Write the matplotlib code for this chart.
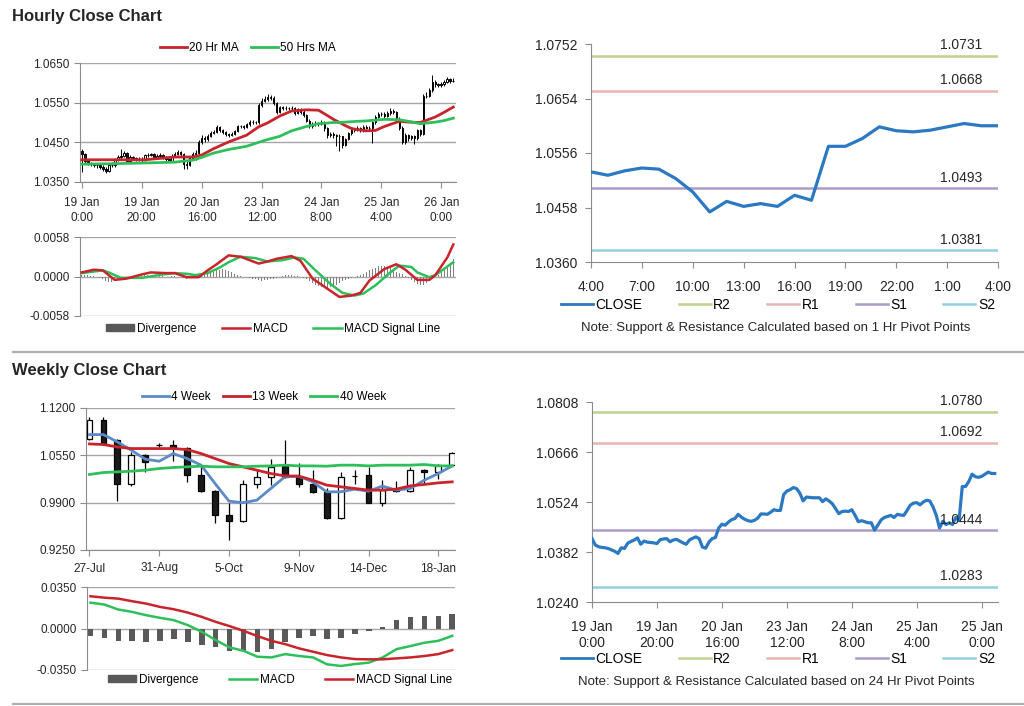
import numpy as np
import matplotlib
matplotlib.use('Agg')
import matplotlib.pyplot as plt
from matplotlib.lines import Line2D
from matplotlib.patches import Patch
import matplotlib.transforms as mtransforms

plt.rcParams['font.family'] = ['Liberation Sans', 'DejaVu Sans']

W, H = 1024, 706

# ---- hourly data (19 Jan 0:00 -> 26 Jan 4:00, trading hours) ----
hourly_close = [
    1.0420, 1.0402, 1.0397, 1.0395, 1.0394, 1.0392, 1.0388, 1.0384, 1.0378, 1.0394,
    1.0392, 1.0407, 1.0412, 1.0416, 1.0422, 1.0404, 1.0413, 1.0410, 1.0409, 1.0408,
    1.0406, 1.0417, 1.0419, 1.0420, 1.0411, 1.0416, 1.0418, 1.0413, 1.0408, 1.0404,
    1.0416, 1.0421, 1.0425, 1.0420, 1.0396, 1.0393, 1.0410, 1.0420, 1.0423, 1.0450,
    1.0461, 1.0458, 1.0467, 1.0474, 1.0477, 1.0489, 1.0481, 1.0475, 1.0471, 1.0469,
    1.0472, 1.0478, 1.0490, 1.0490, 1.0489, 1.0495, 1.0502, 1.0500, 1.0500, 1.0545,
    1.0555, 1.0559, 1.0565, 1.0562, 1.0549, 1.0527, 1.0538, 1.0537, 1.0536, 1.0536,
    1.0536, 1.0525, 1.0533, 1.0527, 1.0519, 1.0505, 1.0491, 1.0497, 1.0498, 1.0497,
    1.0502, 1.0486, 1.0468, 1.0471, 1.0468, 1.0465, 1.0465, 1.0444, 1.0458, 1.0473,
    1.0480, 1.0483, 1.0486, 1.0480, 1.0489, 1.0487, 1.0486, 1.0500, 1.0515, 1.0521,
    1.0522, 1.0516, 1.0524, 1.0529, 1.0527, 1.0510, 1.0486, 1.0450, 1.0469, 1.0460,
    1.0465, 1.0460, 1.0480, 1.0471, 1.0568, 1.0568, 1.0582, 1.0603, 1.0596, 1.0594,
    1.0597, 1.0603, 1.0609, 1.0605, 1.0605]
hourly_first_open = 1.0428
hourly_high = [
    1.0432, 1.0424, 1.0406, 1.0401, 1.0399, 1.0398, 1.0396, 1.0392, 1.0388, 1.0398,
    1.0400, 1.0411, 1.0418, 1.0434, 1.0428, 1.0425, 1.0417, 1.0416, 1.0414, 1.0413,
    1.0412, 1.0421, 1.0424, 1.0424, 1.0423, 1.0420, 1.0422, 1.0421, 1.0416, 1.0411,
    1.0420, 1.0426, 1.0430, 1.0428, 1.0422, 1.0402, 1.0414, 1.0426, 1.0430, 1.0456,
    1.0468, 1.0466, 1.0472, 1.0479, 1.0482, 1.0494, 1.0492, 1.0484, 1.0478, 1.0474,
    1.0476, 1.0482, 1.0494, 1.0494, 1.0493, 1.0499, 1.0506, 1.0506, 1.0504, 1.0550,
    1.0562, 1.0566, 1.0572, 1.0570, 1.0566, 1.0552, 1.0542, 1.0542, 1.0541, 1.0540,
    1.0541, 1.0539, 1.0537, 1.0536, 1.0531, 1.0522, 1.0508, 1.0501, 1.0503, 1.0502,
    1.0507, 1.0505, 1.0489, 1.0476, 1.0475, 1.0472, 1.0470, 1.0467, 1.0462, 1.0477,
    1.0484, 1.0487, 1.0490, 1.0489, 1.0493, 1.0493, 1.0491, 1.0505, 1.0520, 1.0526,
    1.0527, 1.0526, 1.0529, 1.0536, 1.0534, 1.0530, 1.0513, 1.0490, 1.0473, 1.0472,
    1.0469, 1.0469, 1.0484, 1.0484, 1.0573, 1.0576, 1.0588, 1.0619, 1.0608, 1.0600,
    1.0602, 1.0608, 1.0614, 1.0612, 1.0611]
hourly_low = [
    1.0376, 1.0396, 1.0392, 1.0390, 1.0388, 1.0386, 1.0382, 1.0378, 1.0372, 1.0374,
    1.0388, 1.0389, 1.0403, 1.0408, 1.0412, 1.0400, 1.0401, 1.0406, 1.0404, 1.0403,
    1.0401, 1.0403, 1.0413, 1.0415, 1.0407, 1.0408, 1.0413, 1.0409, 1.0404, 1.0400,
    1.0401, 1.0413, 1.0418, 1.0414, 1.0384, 1.0383, 1.0390, 1.0406, 1.0405, 1.0418,
    1.0446, 1.0452, 1.0454, 1.0463, 1.0470, 1.0473, 1.0476, 1.0470, 1.0466, 1.0464,
    1.0465, 1.0468, 1.0475, 1.0485, 1.0484, 1.0485, 1.0491, 1.0496, 1.0495, 1.0497,
    1.0540, 1.0551, 1.0555, 1.0556, 1.0544, 1.0522, 1.0523, 1.0532, 1.0531, 1.0531,
    1.0530, 1.0520, 1.0521, 1.0522, 1.0513, 1.0500, 1.0486, 1.0487, 1.0492, 1.0492,
    1.0493, 1.0478, 1.0460, 1.0463, 1.0462, 1.0440, 1.0429, 1.0436, 1.0440, 1.0455,
    1.0469, 1.0476, 1.0479, 1.0476, 1.0477, 1.0483, 1.0482, 1.0448, 1.0497, 1.0511,
    1.0516, 1.0512, 1.0513, 1.0520, 1.0522, 1.0505, 1.0480, 1.0446, 1.0447, 1.0454,
    1.0455, 1.0445, 1.0457, 1.0466, 1.0468, 1.0561, 1.0564, 1.0578, 1.0590, 1.0589,
    1.0590, 1.0592, 1.0599, 1.0600, 1.0601]

ma_hour = [0, 10, 21, 31, 37, 40, 44, 49, 55, 59, 62, 66, 70, 75, 79, 81, 84, 86,
           88, 90, 92, 95, 98, 101, 106, 109, 113, 118, 121, 124]
ma20 = [1.0406, 1.0406, 1.0406, 1.0413, 1.0413, 1.0418, 1.0434, 1.0451, 1.0468, 1.0489,
        1.0499, 1.0516, 1.0529, 1.0532, 1.0531, 1.0522, 1.0508, 1.0500, 1.0492, 1.0485,
        1.0482, 1.0479, 1.0480, 1.0490, 1.0503, 1.0501, 1.0500, 1.0514, 1.0526, 1.0539]
ma50 = [1.0395, 1.0396, 1.0398, 1.0400, 1.0405, 1.0412, 1.0423, 1.0432, 1.0440, 1.0450,
        1.0457, 1.0465, 1.0479, 1.0490, 1.0497, 1.0498, 1.0500, 1.0500, 1.0501, 1.0502,
        1.0503, 1.0504, 1.0506, 1.0508, 1.0507, 1.0503, 1.0497, 1.0501, 1.0505, 1.0511]

macd_hour_x = [0, 4, 7, 11, 15, 20, 23, 28, 31, 35, 39, 42, 45, 49, 53, 59, 62, 65,
               70, 73, 77, 82, 86, 90, 93, 96, 101, 105, 108, 112, 116, 118, 122, 124]
macd_hour = [0.0006, 0.0010, 0.0009, -0.0005, -0.0003, 0.0003, 0.0006, 0.0005, 0.0005,
             -0.0001, -0.0001, 0.0009, 0.0018, 0.0031, 0.0029, 0.0019, 0.0022, 0.0026,
             0.0030, 0.0023, -0.0003, -0.0018, -0.0030, -0.0028, -0.0024, -0.0006,
             0.0011, 0.0018, 0.0010, -0.0005, -0.0005, 0.0002, 0.0028, 0.0047]
signal_hour_x = [0, 7, 9, 13, 20, 27, 31, 35, 38, 42, 46, 49, 53, 58, 62, 67, 71, 74,
                 78, 83, 87, 91, 94, 98, 103, 106, 110, 112, 116, 118, 124]
signal_hour = [0.0005, 0.0009, 0.0006, -0.0002, -0.0002, 0.0003, 0.0005, 0.0004, 0.0002,
               0.0005, 0.0013, 0.0021, 0.0029, 0.0027, 0.0022, 0.0024, 0.0028, 0.0026,
               0.0009, -0.0011, -0.0024, -0.0028, -0.0025, -0.0013, 0.0006, 0.0016,
               0.0014, 0.0006, -0.0001, 0.0002, 0.0021]
div_hour = [
    0.0002, 0.0002, 0.0002, 0.0001, 0.0001, 0.0000, -0.0002, -0.0004, -0.0006, -0.0008,
    -0.0008, -0.0007, -0.0005, -0.0003, -0.0002, -0.0001, -0.0001, 0.0000, 0.0001, 0.0001,
    0.0001, 0.0002, 0.0002, 0.0001, 0.0001, 0.0000, 0.0001, 0.0001, 0.0000, -0.0001,
    0.0001, 0.0001, 0.0000, -0.0001, -0.0002, -0.0003, -0.0002, -0.0002, -0.0001, 0.0001,
    0.0002, 0.0003, 0.0004, 0.0006, 0.0007, 0.0009, 0.0010, 0.0011, 0.0009, 0.0008,
    0.0006, 0.0004, 0.0002, 0.0001, 0.0000, -0.0001, -0.0002, -0.0003, -0.0004, -0.0005,
    -0.0006, -0.0005, -0.0005, -0.0004, -0.0003, -0.0002, 0.0000, 0.0001, 0.0002, 0.0002,
    0.0002, 0.0001, 0.0001, 0.0000, -0.0002, -0.0004, -0.0006, -0.0009, -0.0012, -0.0014,
    -0.0016, -0.0017, -0.0018, -0.0016, -0.0015, -0.0012, -0.0010, -0.0007, -0.0005, -0.0003,
    -0.0002, 0.0000, 0.0001, 0.0002, 0.0004, 0.0006, 0.0009, 0.0011, 0.0013, 0.0015,
    0.0016, 0.0015, 0.0014, 0.0012, 0.0010, 0.0007, 0.0005, 0.0003, 0.0001, -0.0002,
    -0.0005, -0.0008, -0.0011, -0.0013, -0.0012, -0.0010, -0.0007, -0.0004, -0.0001, 0.0002,
    0.0006, 0.0010, 0.0015, 0.0020, 0.0025]

hour_ticks = [0, 20, 40, 60, 80, 100, 120]
hour_labels = ['19 Jan\n0:00', '19 Jan\n20:00', '20 Jan\n16:00', '23 Jan\n12:00',
               '24 Jan\n8:00', '25 Jan\n4:00', '26 Jan\n0:00']
close24_labels = ['19 Jan\n0:00', '19 Jan\n20:00', '20 Jan\n16:00', '23 Jan\n12:00',
                  '24 Jan\n8:00', '25 Jan\n4:00', '25 Jan\n0:00']
day_ticks = [0, 3, 6, 9, 12, 15, 18, 21, 24]
day_labels = ['4:00', '7:00', '10:00', '13:00', '16:00', '19:00', '22:00', '1:00', '4:00']

pivots_1h = {'R2': 1.0731, 'R1': 1.0668, 'S1': 1.0493, 'S2': 1.0381}
pivots_24h = {'R2': 1.0780, 'R1': 1.0692, 'S1': 1.0444, 'S2': 1.0283}

# ---- weekly data (27 Jul -> 25 Jan) ----
week_open = [1.0780, 1.1031, 1.0757, 1.0150, 1.0552, 1.0692, 1.0698, 1.0652, 1.0278,
             1.0058, 0.9730, 0.9647, 1.0150, 1.0255, 1.0401, 1.0255, 1.0150, 1.0049,
             0.9693, 1.0272, 1.0278, 0.9899, 1.0058, 1.0058, 1.0346, 1.0323, 1.0424]
week_high = [1.1077, 1.1077, 1.0780, 1.0597, 1.0574, 1.0721, 1.0757, 1.0666, 1.0392,
             1.0072, 0.9889, 1.0209, 1.0346, 1.0497, 1.0757, 1.0451, 1.0346, 1.0095,
             1.0323, 1.0346, 1.0392, 1.0209, 1.0195, 1.0392, 1.0369, 1.0437, 1.0597]
week_low = [1.0757, 1.0689, 0.9926, 1.0127, 1.0323, 1.0666, 1.0469, 1.0186, 1.0040,
            0.9615, 0.9387, 0.9638, 1.0104, 1.0141, 1.0241, 1.0118, 1.0026, 0.9675,
            0.9675, 1.0163, 0.9889, 0.9857, 1.0049, 1.0040, 1.0163, 1.0223, 1.0415]
week_close = [1.1031, 1.0711, 1.0150, 1.0552, 1.0460, 1.0686, 1.0657, 1.0278, 1.0058,
              0.9730, 0.9647, 1.0150, 1.0255, 1.0392, 1.0255, 1.0150, 1.0049, 0.9693,
              1.0255, 1.0264, 0.9899, 1.0072, 1.0072, 1.0346, 1.0323, 1.0424, 1.0588]
ma4w = [1.0835, 1.0835, 1.0734, 1.0620, 1.0497, 1.0469, 1.0574, 1.0506, 1.0415, 1.0163,
        0.9921, 0.9899, 0.9935, 1.0095, 1.0255, 1.0264, 1.0186, 1.0049, 1.0049, 1.0086,
        1.0058, 1.0127, 1.0072, 1.0095, 1.0209, 1.0300, 1.0405]
ma13w = [1.0707, 1.0698, 1.0666, 1.0643, 1.0643, 1.0643, 1.0643, 1.0629, 1.0574, 1.0506,
         1.0437, 1.0392, 1.0346, 1.0300, 1.0268, 1.0264, 1.0209, 1.0141, 1.0118, 1.0095,
         1.0072, 1.0072, 1.0086, 1.0131, 1.0150, 1.0172, 1.0186]
ma40w = [1.0287, 1.0314, 1.0323, 1.0332, 1.0346, 1.0369, 1.0383, 1.0392, 1.0401, 1.0392,
         1.0392, 1.0392, 1.0401, 1.0405, 1.0415, 1.0405, 1.0405, 1.0401, 1.0415, 1.0415,
         1.0405, 1.0415, 1.0415, 1.0415, 1.0424, 1.0405, 1.0405]
macd_week = [0.0218, 0.0202, 0.0160, 0.0140, 0.0112, 0.0090, 0.0070, 0.0028, -0.0028,
             -0.0098, -0.0160, -0.0188, -0.0238, -0.0244, -0.0216, -0.0232, -0.0244,
             -0.0302, -0.0316, -0.0300, -0.0288, -0.0244, -0.0174, -0.0148, -0.0120,
             -0.0104, -0.0062]
signal_week = [0.0272, 0.0260, 0.0252, 0.0230, 0.0210, 0.0182, 0.0162, 0.0134, 0.0098,
               0.0056, 0.0020, -0.0020, -0.0064, -0.0104, -0.0132, -0.0168, -0.0196,
               -0.0224, -0.0244, -0.0258, -0.0260, -0.0260, -0.0252, -0.0244, -0.0232,
               -0.0216, -0.0182]
div_week = [-0.0064, -0.0084, -0.0104, -0.0104, -0.0112, -0.0104, -0.0092, -0.0112,
            -0.0140, -0.0160, -0.0188, -0.0188, -0.0196, -0.0174, -0.0112, -0.0084,
            -0.0064, -0.0092, -0.0084, -0.0048, -0.0020, 0.0014, 0.0070, 0.0098,
            0.0106, 0.0106, 0.0126]
week_ticks = [0, 5, 10, 15, 20, 25]
week_labels = ['27-Jul', '31-Aug', '5-Oct', '9-Nov', '14-Dec', '18-Jan']

# ---- colours ----
AXIS = '#8c8c8c'
GRID = '#a6a6a6'
TXT = '#262626'
RED = '#c8242b'
GREEN = '#2fbf5a'
BLUE4 = '#5b8ac6'
CLOSE_C = '#2a79c2'
PIVOT_C = {'R2': '#bdd38f', 'R1': '#e8b4b4', 'S1': '#ad9bcc', 'S2': '#93cfe0'}


def px_axes(fig, left, top, right, bottom):
    return fig.add_axes([left / W, 1 - bottom / H, (right - left) / W, (bottom - top) / H])


def style_axes(ax, fs, grid=True):
    for s in ('top', 'right'):
        ax.spines[s].set_visible(False)
    ax.spines['left'].set_color(AXIS)
    ax.spines['bottom'].set_color(AXIS)
    ax.tick_params(axis='both', colors=AXIS, labelcolor=TXT, labelsize=fs,
                   length=4, width=0.8, direction='out')
    if grid:
        ax.yaxis.grid(True, color=GRID, lw=1.0)
        ax.set_axisbelow(True)


def draw_candles(ax, x, o, h, l, c, width, lw):
    x, o, h, l, c = map(np.asarray, (x, o, h, l, c))
    ax.vlines(x, l, h, color='black', lw=lw, zorder=3)
    up = c >= o
    ax.bar(x[up], (c - o)[up], bottom=o[up], width=width, color='white',
           edgecolor='black', lw=lw, zorder=4)
    ax.bar(x[~up], (o - c)[~up], bottom=c[~up], width=width, color='#1a1a1a',
           edgecolor='black', lw=lw, zorder=4)


def pivot_panel(ax, closes, x, pivots, yticks):
    for name in ('R2', 'R1', 'S1', 'S2'):
        ax.axhline(pivots[name], color=PIVOT_C[name], lw=1.8, zorder=2)
        ax.annotate(f'{pivots[name]:.4f}', xy=(0.91, pivots[name]),
                    xycoords=mtransforms.blended_transform_factory(ax.transAxes, ax.transData),
                    xytext=(0, 2.5), textcoords='offset points', ha='center', va='bottom',
                    fontsize=10, color=TXT, zorder=5)
    ax.plot(x, closes, color=CLOSE_C, lw=2.3, zorder=4)
    ax.set_ylim(yticks[0], yticks[-1])
    ax.set_yticks(yticks)
    ax.set_yticklabels([f'{v:.4f}' for v in yticks])
    style_axes(ax, 10, grid=False)
    ax.tick_params(axis='x', pad=9)
    ax.tick_params(axis='y', pad=6)


def pivot_legend(fig, ycenter, note):
    handles = [Line2D([], [], color=CLOSE_C, lw=2)] + \
              [Line2D([], [], color=PIVOT_C[k], lw=1.8) for k in ('R2', 'R1', 'S1', 'S2')]
    fig.legend(handles, ['CLOSE', 'R2', 'R1', 'S1', 'S2'], loc='center',
               bbox_to_anchor=(778 / W, 1 - ycenter / H), ncol=5, frameon=False,
               fontsize=10, handlelength=2.3, handletextpad=0.2, columnspacing=2.6)
    fig.text(776 / W, 1 - (ycenter + 23) / H, note, ha='center', va='center',
             fontsize=9.5, color=TXT)


fig = plt.figure(figsize=(W / 100, H / 100), dpi=100)

hx = np.arange(len(hourly_close))
hourly_open = np.r_[hourly_first_open, np.asarray(hourly_close)[:-1]]

# ---- hourly candle chart ----
ax1 = px_axes(fig, 80, 63, 456, 182)
draw_candles(ax1, hx, hourly_open, hourly_high, hourly_low, hourly_close, 0.55, 0.7)
ax1.plot(ma_hour, ma20, color=RED, lw=2.0, zorder=5)
ax1.plot(ma_hour, ma50, color=GREEN, lw=2.0, zorder=5)
ax1.set_xlim(-0.6, 124.9)
ax1.set_ylim(1.0350, 1.0650)
ax1.set_yticks([1.0350, 1.0450, 1.0550, 1.0650])
ax1.set_yticklabels(['1.0350', '1.0450', '1.0550', '1.0650'])
ax1.set_xticks(hour_ticks)
ax1.set_xticklabels(hour_labels, linespacing=1.25)
style_axes(ax1, 8.5)
ax1.tick_params(axis='x', pad=7)
fig.legend([Line2D([], [], color=RED, lw=2), Line2D([], [], color=GREEN, lw=2)],
           ['20 Hr MA', '50 Hrs MA'], loc='center', bbox_to_anchor=(248 / W, 1 - 48 / H),
           ncol=2, frameon=False, fontsize=8.5, handlelength=2.3, handletextpad=0.2,
           columnspacing=1.0)

# ---- hourly MACD ----
ax2 = px_axes(fig, 80, 237, 456, 316)
ax2.bar(hx, div_hour, width=0.45, color='#7f7f7f', zorder=2)
ax2.plot(macd_hour_x, macd_hour, color=RED, lw=1.8, zorder=4)
ax2.plot(signal_hour_x, signal_hour, color=GREEN, lw=1.8, zorder=3)
ax2.set_xlim(-0.6, 124.9)
ax2.set_ylim(-0.0058, 0.0058)
ax2.set_yticks([-0.0058, 0.0, 0.0058])
ax2.set_yticklabels(['-0.0058', '0.0000', '0.0058'])
ax2.set_xticks([])
style_axes(ax2, 8.5)
ax2.spines['bottom'].set_visible(False)
fig.legend([Patch(color='#595959'), Line2D([], [], color=RED, lw=1.8),
            Line2D([], [], color=GREEN, lw=1.8)],
           ['Divergence', 'MACD', 'MACD Signal Line'], loc='center',
           bbox_to_anchor=(273 / W, 1 - 329 / H), ncol=3, frameon=False, fontsize=8.5,
           handlelength=2.4, handleheight=0.5, handletextpad=0.2, columnspacing=2.2)

# ---- 1 Hr pivot chart ----
ax3 = px_axes(fig, 591, 44, 998, 262)
pivot_panel(ax3, hourly_close[100:], np.arange(25), pivots_1h,
            [1.0360, 1.0458, 1.0556, 1.0654, 1.0752])
ax3.set_xlim(0, 24)
ax3.set_xticks(day_ticks)
ax3.set_xticklabels(day_labels)
pivot_legend(fig, 305, 'Note: Support & Resistance Calculated based on 1 Hr Pivot Points')

# ---- weekly candle chart ----
wx = np.arange(len(week_close))
ax4 = px_axes(fig, 86, 408, 455, 550)
draw_candles(ax4, wx, week_open, week_high, week_low, week_close, 0.42, 0.9)
ax4.plot(wx, ma4w, color=BLUE4, lw=2.0, zorder=5)
ax4.plot(wx, ma13w, color=RED, lw=2.0, zorder=5)
ax4.plot(wx, ma40w, color=GREEN, lw=2.0, zorder=5)
ax4.set_xlim(-0.25, 26.2)
ax4.set_ylim(0.9250, 1.1200)
ax4.set_yticks([0.9250, 0.9900, 1.0550, 1.1200])
ax4.set_yticklabels(['0.9250', '0.9900', '1.0550', '1.1200'])
ax4.set_xticks(week_ticks)
ax4.set_xticklabels(week_labels)
style_axes(ax4, 8.5)
ax4.tick_params(axis='x', pad=5)
fig.legend([Line2D([], [], color=BLUE4, lw=2), Line2D([], [], color=RED, lw=2),
            Line2D([], [], color=GREEN, lw=2)],
           ['4 Week', '13 Week', '40 Week'], loc='center',
           bbox_to_anchor=(264 / W, 1 - 397 / H), ncol=3, frameon=False, fontsize=8.5,
           handlelength=2.3, handletextpad=0.2, columnspacing=1.0)

# ---- weekly MACD ----
ax5 = px_axes(fig, 87, 587, 455, 670)
ax5.bar(wx, div_week, width=0.4, color='#595959', zorder=2)
ax5.plot(wx, macd_week, color=GREEN, lw=1.8, zorder=3)
ax5.plot(wx, signal_week, color=RED, lw=1.8, zorder=4)
ax5.set_xlim(-0.25, 26.2)
ax5.set_ylim(-0.0350, 0.0350)
ax5.set_yticks([-0.0350, 0.0, 0.0350])
ax5.set_yticklabels(['-0.0350', '0.0000', '0.0350'])
ax5.set_xticks([])
style_axes(ax5, 8.5)
ax5.spines['bottom'].set_visible(False)
fig.legend([Patch(color='#595959'), Line2D([], [], color=GREEN, lw=1.8),
            Line2D([], [], color=RED, lw=1.8)],
           ['Divergence', 'MACD', 'MACD Signal Line'], loc='center',
           bbox_to_anchor=(280 / W, 1 - 680 / H), ncol=3, frameon=False, fontsize=8.5,
           handlelength=2.4, handleheight=0.5, handletextpad=0.2, columnspacing=2.6)

# ---- 24 Hr pivot chart ----
ax6 = px_axes(fig, 592, 402, 998, 602)
pivot_panel(ax6, hourly_close, hx, pivots_24h, [1.0240, 1.0382, 1.0524, 1.0666, 1.0808])
ax6.set_xlim(0, 125)
ax6.set_xticks(hour_ticks)
ax6.set_xticklabels(close24_labels, linespacing=1.15)
pivot_legend(fig, 659, 'Note: Support & Resistance Calculated based on 24 Hr Pivot Points')

# ---- titles and separators ----
fig.text(12 / W, 1 - 16 / H, 'Hourly Close Chart', fontsize=12, fontweight='bold',
         color=TXT, va='center', ha='left')
fig.text(12 / W, 1 - 370 / H, 'Weekly Close Chart', fontsize=12, fontweight='bold',
         color=TXT, va='center', ha='left')
for yy in (352, 704):
    fig.add_artist(Line2D([13 / W, 1.0], [1 - yy / H, 1 - yy / H], color='#b0b0b0', lw=1.6))

fig.savefig('out.png', dpi=100)
